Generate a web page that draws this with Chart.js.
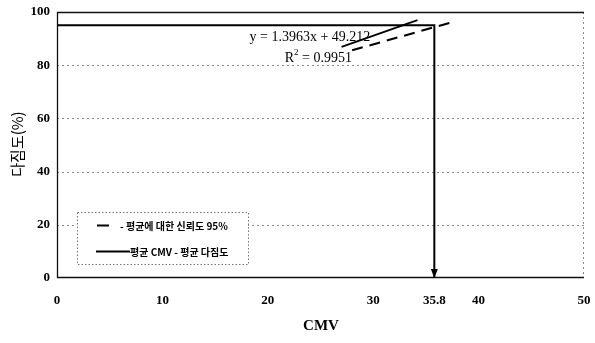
<!DOCTYPE html>
<html>
<head>
<meta charset="utf-8">
<script src="https://cdn.jsdelivr.net/npm/chart.js@4.4.1/dist/chart.umd.min.js"></script>
<style>
  html, body { margin: 0; padding: 0; background: #fff; }
  #wrap { width: 595px; height: 343px; }
</style>
</head>
<body>
<div id="wrap"><canvas id="c" width="595" height="343"></canvas></div>
<script>
// Axis ticks
const xTickValues = [0, 10, 20, 30, 35.8, 40, 50];
const yTickValues = [0, 20, 40, 60, 80, 100];

// Mean CMV and mean degree of compaction
const meanCMV = 35.8;
const meanCompaction = 95;

// Regression of compaction on CMV
const trendSlope = 1.3963;
const trendIntercept = 49.212;
const trendR2 = 0.9951;
const trendX = [27, 34.2];

// 95% confidence band (lower limit) around the mean
const confX = [28, 37.6];
const confY = [85.6, 96.3];

const meanPathX = [0, meanCMV, meanCMV];
const meanPathY = [meanCompaction, meanCompaction, 0];

const serif = "'Liberation Serif', 'DejaVu Serif', serif";
const kr = "'Noto Sans CJK KR', sans-serif";

const decor = {
  id: 'decor',
  beforeDatasetsDraw(chart) {
    const { ctx, chartArea: a, scales: { x, y } } = chart;
    ctx.save();
    // horizontal grid lines
    ctx.strokeStyle = '#8a8a8a';
    ctx.lineWidth = 1;
    ctx.setLineDash([2, 3]);
    yTickValues.forEach(v => {
      if (v === 0 || v === 100) return;
      const py = Math.round(y.getPixelForValue(v)) + 0.5;
      ctx.beginPath(); ctx.moveTo(a.left, py); ctx.lineTo(a.right, py); ctx.stroke();
    });
    // right frame edge
    ctx.beginPath(); ctx.moveTo(Math.round(a.right) - 0.5, a.top); ctx.lineTo(Math.round(a.right) - 0.5, a.bottom); ctx.stroke();
    ctx.setLineDash([]);
    // remaining frame
    ctx.strokeStyle = '#111';
    ctx.lineWidth = 1.3;
    ctx.beginPath();
    ctx.moveTo(a.right, a.top + 0.5); ctx.lineTo(a.left + 0.5, a.top + 0.5);
    ctx.lineTo(a.left + 0.5, a.bottom - 0.5); ctx.lineTo(a.right, a.bottom - 0.5);
    ctx.stroke();
    ctx.restore();
  },
  afterDatasetsDraw(chart) {
    const { ctx, scales: { x, y } } = chart;
    ctx.save();
    // arrowhead at the foot of the mean-CMV line
    const ax = x.getPixelForValue(meanCMV);
    const ay = y.getPixelForValue(0);
    ctx.fillStyle = '#000';
    ctx.beginPath();
    ctx.moveTo(ax, ay); ctx.lineTo(ax - 3.5, ay - 9); ctx.lineTo(ax + 3.5, ay - 9);
    ctx.closePath(); ctx.fill();

    // regression equation
    ctx.fillStyle = '#000';
    ctx.textBaseline = 'middle';
    ctx.textAlign = 'center';
    ctx.font = '14px ' + serif;
    const ex = x.getPixelForValue(24.0), ey = y.getPixelForValue(90.6);
    ctx.fillText('y = ' + trendSlope + 'x + ' + trendIntercept, ex, ey);
    const rx = x.getPixelForValue(24.8), ry = y.getPixelForValue(82.7);
    const rText = ' = ' + trendR2;
    const wR = ctx.measureText('R').width, wT = ctx.measureText(rText).width;
    ctx.font = '9px ' + serif;
    const w2 = ctx.measureText('2').width;
    const start = rx - (wR + w2 + wT) / 2;
    ctx.textAlign = 'left';
    ctx.font = '14px ' + serif;
    ctx.fillText('R', start, ry);
    ctx.font = '9px ' + serif;
    ctx.fillText('2', start + wR, ry - 5);
    ctx.font = '14px ' + serif;
    ctx.fillText(rText, start + wR + w2, ry);

    // legend box
    const lx = 77, ly = 212, lw = 171, lh = 52;
    ctx.fillStyle = '#fff';
    ctx.fillRect(lx, ly, lw, lh);
    ctx.strokeStyle = '#777';
    ctx.lineWidth = 1;
    ctx.setLineDash([1.5, 2]);
    ctx.strokeRect(lx + 0.5, ly + 0.5, lw, lh);
    ctx.setLineDash([]);
    ctx.strokeStyle = '#000';
    ctx.lineWidth = 2;
    ctx.beginPath(); ctx.moveTo(97, 225.5); ctx.lineTo(109, 225.5); ctx.stroke();
    ctx.beginPath(); ctx.moveTo(96, 251.5); ctx.lineTo(130, 251.5); ctx.stroke();
    ctx.fillStyle = '#000';
    ctx.font = 'bold 10px ' + kr;
    ctx.textAlign = 'left';
    ctx.fillText('- 평균에 대한 신뢰도 95%', 120, 226);
    ctx.fillText('평균 CMV - 평균 다짐도', 130, 252);

    // axis titles
    ctx.font = 'bold 15px ' + serif;
    ctx.textAlign = 'center';
    ctx.fillText('CMV', 321, 326);
    ctx.translate(17, 144);
    ctx.rotate(-Math.PI / 2);
    ctx.font = '15px ' + kr;
    ctx.fillText('다짐도(%)', 0, 0);
    ctx.restore();
  }
};

const toPts = (xs, ys) => xs.map((v, i) => ({ x: v, y: ys[i] }));

new Chart(document.getElementById('c'), {
  type: 'line',
  data: {
    datasets: [
      {
        label: '평균에 대한 신뢰도 95%',
        data: toPts(confX, confY),
        borderColor: '#000', borderWidth: 2, borderDash: [11, 7],
        pointRadius: 0, fill: false
      },
      {
        label: 'y = 1.3963x + 49.212',
        data: trendX.map(v => ({ x: v, y: trendSlope * v + trendIntercept })),
        borderColor: '#000', borderWidth: 1.8,
        pointRadius: 0, fill: false
      },
      {
        label: '평균 CMV - 평균 다짐도',
        data: toPts(meanPathX, meanPathY),
        borderColor: '#000', borderWidth: 2,
        pointRadius: 0, fill: false, tension: 0
      }
    ]
  },
  options: {
    responsive: false,
    animation: false,
    layout: { padding: { top: 12, right: 11, left: 0, bottom: 0 } },
    plugins: { legend: { display: false }, tooltip: { enabled: false } },
    scales: {
      x: {
        type: 'linear', min: 0, max: 50,
        afterBuildTicks: s => { s.ticks = xTickValues.map(v => ({ value: v })); },
        afterFit: s => { s.height = 65; s.paddingLeft = 0; s.paddingRight = 0; },
        grid: { display: false, drawTicks: false },
        border: { display: false },
        ticks: {
          padding: 15, color: '#000', maxRotation: 0, autoSkip: false,
          font: { family: serif, size: 13, weight: 'bold' },
          callback: v => String(v)
        }
      },
      y: {
        type: 'linear', min: 0, max: 100,
        afterBuildTicks: s => { s.ticks = yTickValues.map(v => ({ value: v })); },
        afterFit: s => { s.width = 57; s.paddingTop = 0; s.paddingBottom = 0; },
        grid: { display: false, drawTicks: false },
        border: { display: false },
        ticks: {
          padding: 7, color: '#000',
          font: { family: serif, size: 13, weight: 'bold' },
          callback: v => String(v)
        }
      }
    }
  },
  plugins: [decor]
});
</script>
</body>
</html>
